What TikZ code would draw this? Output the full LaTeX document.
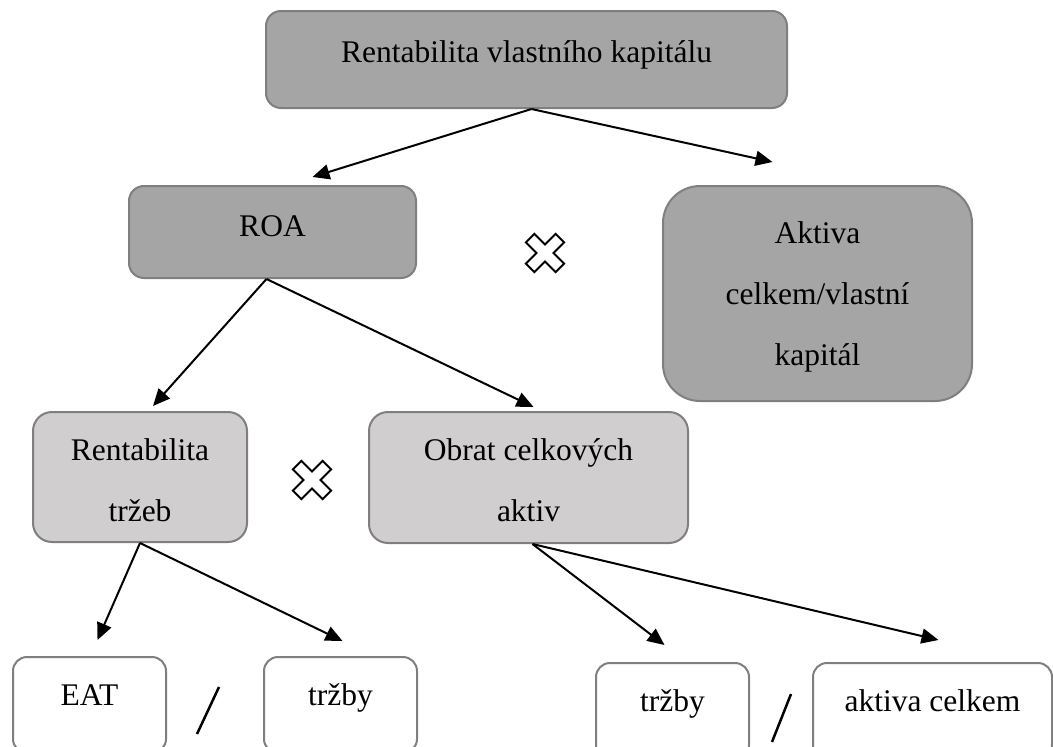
\documentclass[tikz,border=0pt]{standalone}
\usepackage{fontspec}
\setmainfont{Liberation Serif}
\usepackage{tikz}
\usetikzlibrary{arrows.meta}
\definecolor{darkfill}{HTML}{A5A5A5}
\definecolor{lightfill}{HTML}{D0CECE}
\definecolor{edgegray}{HTML}{7F7F7F}
\newcommand{\boxstrut}{\rule{0pt}{28pt}}

\begin{document}
\begin{tikzpicture}[x=1pt,y=-1pt,
  font=\fontsize{31.5}{61}\selectfont,
  box/.style={draw=edgegray,line width=2pt,rounded corners=15pt,inner sep=0pt,align=center},
  darkbox/.style={box,fill=darkfill},
  lightbox/.style={box,fill=lightfill,rounded corners=19pt},
  plainbox/.style={box,fill=white,rounded corners=14pt,minimum width=153pt,text height=48pt,text depth=48pt},
  arr/.style={line width=2pt,-{Triangle[length=17pt,width=15pt]}},
  slashline/.style={line width=2.5pt},
  timesmark/.pic={\draw[line width=2pt,fill=white,rotate=45]
    (-6,-6) -- (-6,-21) -- (6,-21) -- (6,-6) -- (21,-6) -- (21,6) -- (6,6) -- (6,21)
    -- (-6,21) -- (-6,6) -- (-21,6) -- (-21,-6) -- cycle;}]
  \useasboundingbox (0,0) rectangle (1053,747);
  \clip (0,0) rectangle (1053,747);
  % top levels
  \node[darkbox,minimum width=521pt,text height=51pt,text depth=46pt] (roe) at (526.5,59.5) {Rentabilita vlastního kapitálu};
  \node[darkbox,minimum width=287pt,text height=50pt,text depth=42pt] (roa) at (272.5,232) {ROA};
  \node[darkbox,rounded corners=37pt,minimum width=309pt,minimum height=215pt] (lev) at (817.5,293.5) {\boxstrut Aktiva\\celkem/vlastní\\kapitál};
  \node[lightbox,minimum width=214pt,minimum height=130pt] (ros) at (140,477) {\boxstrut Rentabilita\\tržeb};
  \node[lightbox,minimum width=319pt,minimum height=131pt] (ato) at (528.5,477.5) {\boxstrut Obrat celkových\\aktiv};
  % bottom ratios
  \node[plainbox] (eat) at (89.5,705) {EAT};
  \node[plainbox] (sales) at (340.5,705) {tržby};
  \node[plainbox] (salesb) at (672.5,711) {tržby};
  \node[plainbox,minimum width=239pt] (assets) at (932.5,711) {aktiva celkem};
  % arrows
  \draw[arr] ([xshift=5pt]roe.south) -- ([xshift=40pt,yshift=8pt]roa.north);
  \draw[arr] ([xshift=5pt]roe.south) -- ([xshift=-45pt,yshift=23pt]lev.north);
  \draw[arr] ([xshift=-6pt]roa.south) -- ([xshift=13pt,yshift=5pt]ros.north);
  \draw[arr] ([xshift=-6pt]roa.south) -- ([xshift=5pt,yshift=4pt]ato.north);
  \draw[arr] (ros.south) -- ([xshift=8pt,yshift=16pt]eat.north);
  \draw[arr] (ros.south) -- ([xshift=2pt,yshift=15pt]sales.north);
  \draw[arr] ([xshift=4pt]ato.south) -- ([xshift=-8pt,yshift=17pt]salesb.north);
  \draw[arr] ([xshift=4pt]ato.south) -- ([xshift=6pt,yshift=22pt]assets.north);
  % operators
  \pic (mul1) at (545,253) {timesmark};
  \pic (mul2) at (312,480) {timesmark};
  \draw[slashline] (197,734) -- (219,687);
  \draw[slashline] (772,742) -- (791,694);
\end{tikzpicture}
\end{document}
